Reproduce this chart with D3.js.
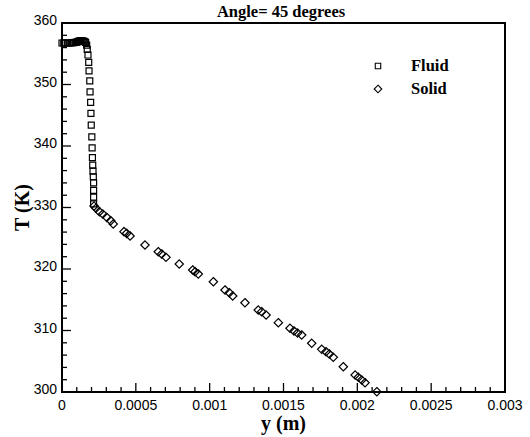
<!DOCTYPE html>
<html>
<head>
<meta charset="utf-8">
<script src="https://cdn.jsdelivr.net/npm/d3@7"></script>
<style>
  html, body { margin: 0; padding: 0; background: #fff; }
  svg { display: block; }
</style>
</head>
<body>
<svg id="chart" width="530" height="437"></svg>
<script>
// Temperature profiles across the channel, inclination 45 degrees
const fluidY = [0, 0.000012, 0.000024, 0.000036, 0.000048, 0.00006, 0.00007, 0.00008, 0.00009,
  0.0001, 0.000106, 0.000112, 0.000118, 0.000124, 0.00013, 0.000136, 0.000142, 0.000148, 0.000154, 0.00016,
  0.000167, 0.000171, 0.000176, 0.000181, 0.000183, 0.000188, 0.00019, 0.000194, 0.000196,
  0.000198, 0.000202, 0.000204, 0.000206, 0.000208, 0.00021, 0.000212, 0.000214, 0.000214, 0.000214, 0.000214];
const fluidT = [356.75, 356.75, 356.75, 356.75, 356.75, 356.75, 356.8, 356.8, 356.85,
  356.9, 356.95, 357.0, 357.05, 357.1, 357.1, 357.1, 357.05, 357.0, 356.95, 356.85,
  356.4, 355.7, 354.8, 353.6, 352.2, 350.6, 348.8, 347.1, 345.3,
  343.4, 341.5, 339.7, 338.1, 336.9, 335.9, 335.0, 334.0, 332.8, 331.7, 330.6];

const solidY = [0.000217, 0.00023, 0.000253, 0.000276, 0.000303, 0.00033, 0.000347,
  0.00042, 0.000438, 0.000461,
  0.000562,
  0.000652, 0.000675, 0.000704,
  0.000794,
  0.000885, 0.000901, 0.000923,
  0.001025,
  0.001104, 0.001133, 0.001156,
  0.001239,
  0.001329, 0.001352, 0.001382,
  0.001465,
  0.001544, 0.001571, 0.001595, 0.001623,
  0.001691,
  0.001759, 0.001788, 0.00181, 0.001837,
  0.001905,
  0.001985, 0.002007, 0.00203, 0.002052,
  0.002132];
const solidT = [330.24, 329.87, 329.32, 328.94, 328.4, 327.85, 327.32,
  326.07, 325.8, 325.37,
  323.9,
  322.81, 322.44, 321.9,
  320.81,
  319.84, 319.56, 319.19,
  317.93,
  316.59, 316.15, 315.61,
  314.52,
  313.33, 313.06, 312.52,
  311.27,
  310.36, 309.92, 309.59, 309.27,
  307.92,
  306.94, 306.55, 306.18, 305.64,
  304.11,
  302.76, 302.39, 301.95, 301.51,
  300.05];

const xTicks = [0, 0.0005, 0.001, 0.0015, 0.002, 0.0025, 0.003];
const xTickLabels = ["0", "0.0005", "0.001", "0.0015", "0.002", "0.0025", "0.003"];
const yTicks = [300, 310, 320, 330, 340, 350, 360];
const seriesNames = ["Fluid", "Solid"];
const chartTitle = "Angle= 45 degrees";
const xTitle = "y (m)";
const yTitle = "T (K)";

const svg = d3.select("#chart");
const plotLeft = 62, plotRight = 505, plotTop = 23, plotBottom = 392;

const x = d3.scaleLinear().domain([0, 0.003]).range([plotLeft, plotRight]);
const y = d3.scaleLinear().domain([300, 360]).range([plotBottom, plotTop]);

const sansFont = "'Liberation Sans', Arial, sans-serif";
const serifFont = "'Liberation Serif', 'Times New Roman', serif";

// Minor ticks (inward)
const xMinor = d3.range(0, 31).map(i => i * 0.0001).filter(v => !xTicks.some(t => Math.abs(t - v) < 1e-9));
const yMinor = d3.range(300, 361, 2).filter(v => v % 10 !== 0);

const tickG = svg.append("g").attr("stroke", "#000").attr("stroke-width", 1.3);
tickG.selectAll(".xminor").data(xMinor).join("line")
  .attr("x1", d => x(d)).attr("x2", d => x(d))
  .attr("y1", plotBottom).attr("y2", plotBottom - 5);
tickG.selectAll(".xmajor").data(xTicks).join("line")
  .attr("x1", d => x(d)).attr("x2", d => x(d))
  .attr("y1", plotBottom).attr("y2", plotBottom - 9);
tickG.selectAll(".yminor").data(yMinor).join("line")
  .attr("x1", plotLeft).attr("x2", plotLeft + 5)
  .attr("y1", d => y(d)).attr("y2", d => y(d));
tickG.selectAll(".ymajor").data(yTicks).join("line")
  .attr("x1", plotLeft).attr("x2", plotLeft + 9)
  .attr("y1", d => y(d)).attr("y2", d => y(d));

// Frame
svg.append("rect")
  .attr("x", plotLeft).attr("y", plotTop)
  .attr("width", plotRight - plotLeft).attr("height", plotBottom - plotTop)
  .attr("fill", "none").attr("stroke", "#000").attr("stroke-width", 2);

// Tick labels
svg.append("g").selectAll("text").data(xTicks).join("text")
  .attr("x", d => x(d)).attr("y", plotBottom + 18)
  .attr("text-anchor", "middle")
  .attr("font-family", sansFont).attr("font-size", 14)
  .text((d, i) => xTickLabels[i]);

svg.append("g").selectAll("text").data(yTicks).join("text")
  .attr("x", plotLeft - 5).attr("y", d => y(d) + 2)
  .attr("text-anchor", "end")
  .attr("font-family", sansFont).attr("font-size", 14)
  .text(d => d);

// Titles
svg.append("text")
  .attr("x", 281).attr("y", 17)
  .attr("text-anchor", "middle")
  .attr("font-family", serifFont).attr("font-weight", "bold").attr("font-size", 16.5)
  .text(chartTitle);

svg.append("text")
  .attr("x", (plotLeft + plotRight) / 2).attr("y", 430)
  .attr("text-anchor", "middle")
  .attr("font-family", serifFont).attr("font-weight", "bold").attr("font-size", 20)
  .text(xTitle);

svg.append("text")
  .attr("transform", `translate(29,${(plotTop + plotBottom) / 2}) rotate(-90)`)
  .attr("text-anchor", "middle")
  .attr("font-family", serifFont).attr("font-weight", "bold").attr("font-size", 20)
  .text(yTitle);

// Markers
const squareSym = d3.symbol().type(d3.symbolSquare).size(36);
const diamondPath = s => `M0,${-s}L${s},0L0,${s}L${-s},0Z`;

const fluid = fluidY.map((v, i) => [v, fluidT[i]]);
const solid = solidY.map((v, i) => [v, solidT[i]]);

svg.append("g").selectAll("path").data(fluid).join("path")
  .attr("d", squareSym())
  .attr("transform", d => `translate(${x(d[0])},${y(d[1])})`)
  .attr("fill", "none").attr("stroke", "#000").attr("stroke-width", 1.2);

svg.append("g").selectAll("path").data(solid).join("path")
  .attr("d", diamondPath(4.2))
  .attr("transform", d => `translate(${x(d[0])},${y(d[1])})`)
  .attr("fill", "none").attr("stroke", "#000").attr("stroke-width", 1.2);

// Legend
const legend = svg.append("g");
legend.append("path")
  .attr("d", d3.symbol().type(d3.symbolSquare).size(30)())
  .attr("transform", "translate(378,66)")
  .attr("fill", "none").attr("stroke", "#000").attr("stroke-width", 1.1);
legend.append("path")
  .attr("d", diamondPath(3.8))
  .attr("transform", "translate(378,89)")
  .attr("fill", "none").attr("stroke", "#000").attr("stroke-width", 1.1);
legend.selectAll("text").data(seriesNames).join("text")
  .attr("x", 411).attr("y", (d, i) => 71 + i * 23)
  .attr("font-family", serifFont).attr("font-weight", "bold").attr("font-size", 16.5)
  .text(d => d);
</script>
</body>
</html>
